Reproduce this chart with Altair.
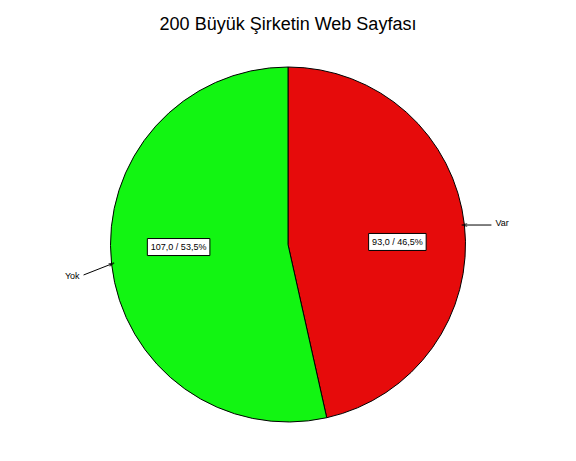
import math
import altair as alt
import pandas as pd

# ---- data ----
categories = ["Var", "Yok"]
values = [93.0, 107.0]
slice_colors = ["#E60B0B", "#12F512"]
title_text = "200 Büyük Şirketin Web Sayfası"

# ---- layout constants (plot-area pixel coordinates) ----
W, H = 560, 445
CX, CY, R = 280, 236.5, 177.5
TITLE_Y = 22                         # alphabetic baseline of the title
LRX, LRY = 0.62 * R, 0.13 * R      # ellipse on which the inside labels sit
FS = 9                               # label font size


def text_width(s, fs=FS):
    w = 0.0
    for ch in s:
        if ch.isdigit():
            w += 0.556
        elif ch == "%":
            w += 0.889
        else:
            w += 0.278
    return w * fs


total = sum(values)
rows = []
start = 0.0
for i, (c, v) in enumerate(zip(categories, values)):
    frac = v / total
    mid = (start + frac / 2) * 2 * math.pi
    start += frac
    label = f"{v:.1f} / {frac * 100:.1f}%".replace(".", ",")
    s, co = math.sin(mid), math.cos(mid)
    lx, ly = CX + LRX * s, CY - LRY * co
    bw = text_width(label) + 7
    ex, ey = CX + R * s, CY - R * co          # point on rim at slice middle
    side = "right" if s >= 0 else "left"
    if side == "right":
        ox, oy = ex + 27, ey
    else:
        ox, oy = ex - 28, ey + 11
    ang = math.degrees(math.atan2(ex - ox, -(ey - oy))) % 360
    rows.append(dict(cat=c, value=v, order=i, label=label,
                     lx=lx, ly=ly, bx1=lx - bw / 2, bx2=lx + bw / 2,
                     by1=ly - 8.5, by2=ly + 8.5,
                     ex=ex, ey=ey, ox=ox, oy=oy, ang=ang, side=side,
                     tx=ox + 4 if side == "right" else ox - 4))
df = pd.DataFrame(rows)

base = alt.Chart(df)

pie = base.mark_arc(stroke="black", strokeWidth=1).encode(
    theta=alt.Theta("value:Q", stack=True),
    order=alt.Order("order:O"),
    color=alt.Color("cat:N", scale=alt.Scale(domain=categories, range=slice_colors), legend=None),
    x=alt.value(CX), y=alt.value(CY), radius=alt.value(R),
)

px = lambda f: alt.X(f, scale=None, axis=None)
py = lambda f: alt.Y(f, scale=None, axis=None)

boxes = base.mark_rect(fill="white", stroke="black", strokeWidth=1).encode(
    x=px("bx1:Q"), x2="bx2:Q", y=py("by1:Q"), y2="by2:Q")

inner = base.mark_text(font="Liberation Sans", fontSize=FS, color="black",
                       align="center", baseline="middle").encode(
    x=px("lx:Q"), y=py("ly:Q"), text="label:N")

leaders = base.mark_rule(color="black", strokeWidth=1).encode(
    x=px("ox:Q"), y=py("oy:Q"), x2="ex:Q", y2="ey:Q")

heads = base.mark_point(shape="M-0.5,1L0,-1L0.5,1", filled=False, color="black",
                        size=30, strokeWidth=1).encode(
    x=px("ex:Q"), y=py("ey:Q"), angle=alt.Angle("ang:Q", scale=None))

out_r = base.transform_filter("datum.side == 'right'").mark_text(
    font="Liberation Sans", fontSize=FS, color="black", align="left", baseline="middle", dy=-2).encode(
    x=px("tx:Q"), y=py("oy:Q"), text="cat:N")
out_l = base.transform_filter("datum.side == 'left'").mark_text(
    font="Liberation Sans", fontSize=FS, color="black", align="right", baseline="middle", dy=1).encode(
    x=px("tx:Q"), y=py("oy:Q"), text="cat:N")

title = alt.Chart(pd.DataFrame({"t": [title_text]})).mark_text(
    font="Liberation Sans", fontSize=18, fontWeight="normal", color="black",
    align="center", baseline="alphabetic").encode(
    x=alt.value(W / 2), y=alt.value(TITLE_Y), text="t:N")

chart = alt.layer(pie, leaders, heads, boxes, inner, out_r, out_l, title).properties(
    width=W, height=H,
    autosize=alt.AutoSizeParams(type="none"),
    padding=0,
).configure(background="white").configure_view(stroke=None)

chart.save("out.html", embed_options={"renderer": "svg", "actions": False})
